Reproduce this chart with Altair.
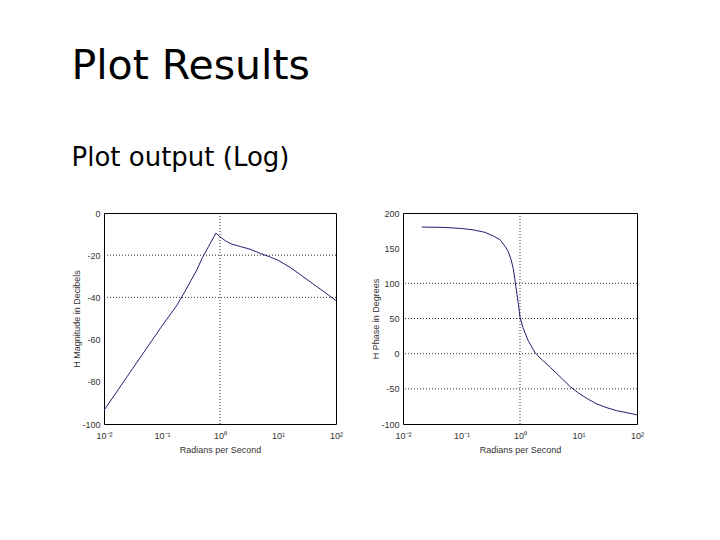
import altair as alt
import pandas as pd

# ---- data ----
mag_freq = [0.01, 0.0178, 0.0316, 0.0562, 0.1, 0.178, 0.251, 0.316, 0.398, 0.501,
            0.631, 0.794, 0.851, 1.0, 1.259, 1.585, 2.239, 3.162, 5.012, 7.079,
            10.0, 15.85, 25.12, 39.81, 63.1, 100.0]
mag_db = [-93.5, -83.5, -73.5, -63.5, -53.5, -44.0, -37.0, -32.0, -27.0, -21.0,
          -16.0, -11.0, -9.5, -11.3, -13.3, -14.7, -15.9, -17.0, -19.2, -20.7,
          -22.4, -25.6, -29.5, -33.5, -37.5, -41.5]

ph_freq = [0.0209, 0.0501, 0.1, 0.158, 0.251, 0.355, 0.457, 0.562, 0.631, 0.708,
           0.776, 0.851, 0.933, 1.0, 1.122, 1.380, 1.820, 2.512, 3.311, 5.012,
           7.244, 10.0, 14.13, 19.95, 30.90, 44.67, 67.61, 100.0]
ph_deg = [180.0, 179.5, 178.0, 176.0, 172.5, 167.0, 162.0, 152.0, 145.0, 133.0,
          119.0, 95.0, 72.0, 52.0, 37.0, 18.5, 1.0, -10.6, -19.6, -34.0,
          -47.0, -56.0, -64.0, -71.0, -77.0, -81.0, -84.0, -87.0]

x_ticks = [0.01, 0.1, 1, 10, 100]
mag_ticks = [-100, -80, -60, -40, -20, 0]
ph_ticks = [-100, -50, 0, 50, 100, 150, 200]

mag_grid_y = [-20, -40]
ph_grid_y = [100, 50, 0, -50]
grid_x = [1]

title_text = "Plot Results"
subtitle_text = "Plot output (Log)"
x_title = "Radians per Second"
mag_title = "H  Magnitude in Decibels"
ph_title = "H  Phase in Degrees"

# ---- chart ----
label_expr = ("datum.value < 0.05 ? '10⁻²' : datum.value < 0.5 ? '10⁻¹' : "
              "datum.value < 5 ? '10⁰' : datum.value < 50 ? '10¹' : '10²'")

axis_font = "Liberation Sans"
line_color = "#20206e"

x_scale = alt.Scale(type="log", domain=[0.01, 100], nice=False)


def x_axis():
    return alt.Axis(values=x_ticks, labelExpr=label_expr, title=x_title, grid=False,
                    ticks=False, domain=False, labelFont=axis_font, labelFontSize=9,
                    labelColor="#333", titleFont=axis_font, titleFontSize=9,
                    titleFontWeight="normal", titleColor="#333", labelPadding=7,
                    titlePadding=5, labelFlush=False, labelOverlap=False)


def y_axis(vals, title):
    return alt.Axis(values=vals, title=title, grid=False, ticks=False, domain=False,
                    labelExpr="toString(datum.value)",
                    labelFont=axis_font, labelFontSize=9, labelColor="#333",
                    titleFont=axis_font, titleFontSize=9, titleFontWeight="normal",
                    titleColor="#333", labelPadding=4, titlePadding=1,
                    minExtent=22, maxExtent=22, labelFlush=False, labelOverlap=False)


def panel(freq, vals, dom, ticks, ytitle, gy, width, height):
    df = pd.DataFrame({"w": freq, "v": vals})
    ysc = alt.Scale(domain=dom, nice=False)
    line = alt.Chart(df).mark_line(color=line_color, strokeWidth=1, clip=True).encode(
        x=alt.X("w:Q", scale=x_scale, axis=x_axis()),
        y=alt.Y("v:Q", scale=ysc, axis=y_axis(ticks, ytitle)),
    )
    hg = alt.Chart(pd.DataFrame({"g": gy})).mark_rule(
        color="black", strokeWidth=0.8, strokeDash=[1, 2]).encode(
        y=alt.Y("g:Q", scale=ysc, axis=y_axis(ticks, ytitle)))
    vg = alt.Chart(pd.DataFrame({"g": grid_x})).mark_rule(
        color="black", strokeWidth=0.8, strokeDash=[1, 2]).encode(
        x=alt.X("g:Q", scale=x_scale, axis=x_axis()))
    return alt.layer(line, hg, vg).properties(width=width, height=height)


left = panel(mag_freq, mag_db, [-100, 0], mag_ticks, mag_title, mag_grid_y, 232, 211)
right = panel(ph_freq, ph_deg, [-100, 200], ph_ticks, ph_title, ph_grid_y, 234, 211)

chart = alt.hconcat(left, right, spacing=26).properties(
    title=alt.TitleParams(
        title_text, subtitle=subtitle_text, anchor="start", frame="bounds",
        font="DejaVu Sans", fontSize=41, fontWeight="normal", color="black",
        subtitleFont="DejaVu Sans", subtitleFontSize=26, subtitleColor="black",
        subtitlePadding=57, offset=37),
    padding={"left": 63, "top": 37, "right": 5, "bottom": 5},
).configure_view(stroke="black", strokeWidth=1)

chart.save("out.html", embed_options={"renderer": "svg", "actions": False})
